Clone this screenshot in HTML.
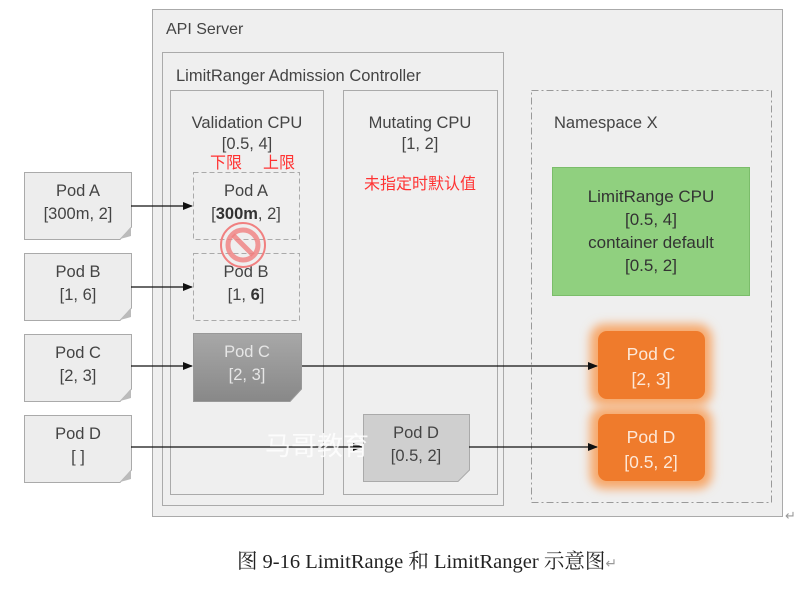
<!DOCTYPE html>
<html><head><meta charset="utf-8"><style>
html,body{margin:0;padding:0;background:#fff;}
svg{display:block;}
text{font-family:"Liberation Sans","Noto Sans CJK SC",sans-serif;fill:#444;}
</style></head><body>
<svg width="807" height="589" viewBox="0 0 807 589" xmlns="http://www.w3.org/2000/svg">
<defs>
<marker id="ar" markerWidth="10" markerHeight="8" refX="9" refY="4" orient="auto" markerUnits="userSpaceOnUse"><path d="M0,0 L10,4 L0,8 z" fill="#111"/></marker>
<linearGradient id="gc" x1="0" y1="0" x2="0" y2="1"><stop offset="0" stop-color="#a8a8a8"/><stop offset="1" stop-color="#888"/></linearGradient>
<filter id="glow" x="-30%" y="-30%" width="160%" height="160%"><feGaussianBlur stdDeviation="5"/></filter>
</defs>
<rect x="152.5" y="9.5" width="630" height="507" fill="#efefef" stroke="#aaa"/>
<text x="166" y="34" font-size="16">API Server</text>
<rect x="162.5" y="52.5" width="341" height="453" fill="#efefef" stroke="#aaa"/>
<text x="176" y="81" font-size="16.5">LimitRanger Admission Controller</text>
<rect x="170.5" y="90.5" width="153" height="404" fill="#efefef" stroke="#aaa"/>
<rect x="343.5" y="90.5" width="154" height="404" fill="#efefef" stroke="#aaa"/>
<rect x="531.5" y="90.5" width="240" height="412" fill="#efefef" stroke="#999" stroke-dasharray="7,3,2,3"/>
<g font-size="16.5" text-anchor="middle">
<text x="247" y="128">Validation CPU</text><text x="247" y="149">[0.5, 4]</text>
<text x="420" y="128">Mutating CPU</text><text x="420" y="149">[1, 2]</text>
</g>
<text x="554" y="128" font-size="16.5">Namespace X</text>
<text x="210" y="168" font-size="16" style="fill:#f33">下限</text>
<text x="263" y="168" font-size="16" style="fill:#f33">上限</text>
<text x="364" y="189" font-size="16" style="fill:#f33">未指定时默认值</text>
<!-- left pods -->
<g stroke="#aaa" fill="#ededed">
<path d="M24.5,172.5 H131.5 V227 L120,239.5 H24.5 Z"/>
<path d="M24.5,253.5 H131.5 V308 L120,320.5 H24.5 Z"/>
<path d="M24.5,334.5 H131.5 V389 L120,401.5 H24.5 Z"/>
<path d="M24.5,415.5 H131.5 V470 L120,482.5 H24.5 Z"/>
</g>
<g fill="#bbb"><path d="M131,227 L120,239 L131,236Z"/><path d="M131,308 L120,320 L131,317Z"/><path d="M131,389 L120,401 L131,398Z"/><path d="M131,470 L120,482 L131,479Z"/></g>
<g font-size="16.5" text-anchor="middle">
<text x="78" y="196">Pod A</text><text x="78" y="219">[300m, 2]</text>
<text x="78" y="277">Pod B</text><text x="78" y="300">[1, 6]</text>
<text x="78" y="358">Pod C</text><text x="78" y="381">[2, 3]</text>
<text x="78" y="439">Pod D</text><text x="78" y="462">[ ]</text>
</g>
<!-- validation pods -->
<g stroke="#aaa" fill="#efefef" stroke-dasharray="5,3">
<rect x="193.5" y="172.5" width="106" height="67"/>
<rect x="193.5" y="253.5" width="106" height="67"/>
</g>
<g font-size="16.5" text-anchor="middle">
<text x="246" y="196">Pod A</text><text x="246" y="219">[<tspan font-weight="bold" style="fill:#333">300m</tspan>, 2]</text>
<text x="246" y="277">Pod B</text><text x="246" y="300">[1, <tspan font-weight="bold" style="fill:#333">6</tspan>]</text>
</g>
<circle cx="243" cy="245" r="22" fill="none" stroke="#f08080" stroke-width="2"/>
<circle cx="243" cy="245" r="15" fill="none" stroke="#f08080" stroke-width="5" opacity="0.8"/>
<line x1="233" y1="235" x2="253" y2="255" stroke="#f08080" stroke-width="5" opacity="0.8"/>
<path d="M193.5,333.5 H301.5 V389 L290,401.5 H193.5 Z" fill="url(#gc)" stroke="#999"/>
<text x="247" y="357" font-size="16.5" text-anchor="middle" style="fill:#e6e6e6">Pod C</text>
<text x="247" y="380" font-size="16.5" text-anchor="middle" style="fill:#e6e6e6">[2, 3]</text>
<path d="M363.5,414.5 H469.5 V470 L458,481.5 H363.5 Z" fill="#cfcfcf" stroke="#aaa"/>
<text x="416" y="438" font-size="16.5" text-anchor="middle">Pod D</text>
<text x="416" y="461" font-size="16.5" text-anchor="middle">[0.5, 2]</text>
<!-- green -->
<rect x="552.5" y="167.5" width="197" height="128" fill="#90d07f" stroke="#7bbd6a"/>
<g font-size="17" text-anchor="middle">
<text x="651" y="202" style="fill:#333">LimitRange CPU</text>
<text x="651" y="225" style="fill:#333">[0.5, 4]</text>
<text x="651" y="248" style="fill:#333">container default</text>
<text x="651" y="271" style="fill:#333">[0.5, 2]</text>
</g>
<!-- orange -->
<rect x="590" y="324" width="122" height="82" rx="14" fill="#f7a86a" filter="url(#glow)"/>
<rect x="590" y="407" width="122" height="82" rx="14" fill="#f7a86a" filter="url(#glow)"/>
<rect x="598" y="331" width="107" height="68" rx="9" fill="#ef7b2c"/>
<rect x="598" y="414" width="107" height="67" rx="9" fill="#ef7b2c"/>
<g font-size="17.5" text-anchor="middle">
<text x="651" y="360" style="fill:#fde8d8">Pod C</text><text x="651" y="385" style="fill:#fde8d8">[2, 3]</text>
<text x="651" y="443" style="fill:#fde8d8">Pod D</text><text x="651" y="468" style="fill:#fde8d8">[0.5, 2]</text>
</g>
<!-- connectors -->
<g stroke="#111" stroke-width="1.3" fill="none" marker-end="url(#ar)">
<line x1="131" y1="206" x2="192" y2="206"/>
<line x1="131" y1="287" x2="192" y2="287"/>
<line x1="131" y1="366" x2="192" y2="366"/>
<line x1="302" y1="366" x2="597" y2="366"/>
<line x1="131" y1="447" x2="362" y2="447"/>
<line x1="469" y1="447" x2="597" y2="447"/>
</g>
<text x="265" y="455" font-size="26" style="fill:#fff" opacity="0.85">马哥教育</text>
<text x="785" y="520" font-size="13" style="fill:#999">↵</text>
<text x="427" y="568" font-size="20.5" text-anchor="middle" style="font-family:'Liberation Serif','Noto Serif CJK SC',serif;fill:#222">图 9-16 LimitRange 和 LimitRanger 示意图<tspan style="fill:#999" font-size="14">↵</tspan></text>
</svg>
</body></html>
